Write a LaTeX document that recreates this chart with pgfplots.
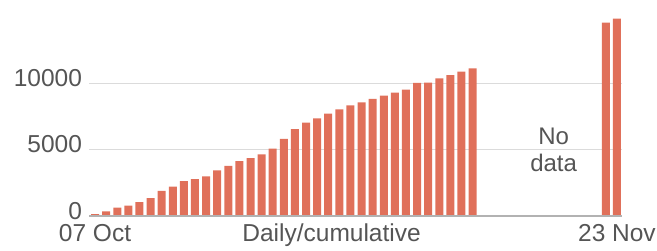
\documentclass[border=0pt]{standalone}
\usepackage{pgfplots}
\pgfplotsset{compat=1.18}
\usepackage{fontspec}
\setmainfont{Liberation Sans}
\definecolor{barc}{HTML}{E0705A}
\definecolor{lab}{HTML}{555555}
\begin{document}
\begin{tikzpicture}
\begin{axis}[
  scale only axis, width=533pt, height=212.8pt,
  xmin=-0.5, xmax=47.5, ymin=0, ymax=16000,
  axis line style={draw=none},
  axis x line*=bottom, axis y line*=left,
  ytick={0,5000,10000}, scaled y ticks=false,
  ymajorgrids, grid style={draw=black!14, line width=0.8pt},
  xtick={0,21.3,47}, xticklabels={07 Oct,Daily/cumulative,23 Nov},
  major tick length=0pt,
  /pgf/number format/assume math mode=true,
  /pgf/number format/1000 sep={},
  tick label style={font=\fontsize{24.5}{26}\selectfont, text=lab},
  xticklabel style={text height=17pt, text depth=0pt, anchor=north, yshift=-5pt},
  yticklabel style={anchor=east, xshift=-4pt, yshift=5pt},
  clip=false,
]
\addplot[ybar, bar width=8pt, fill=barc, draw=none] coordinates {
(0,150)(1,350)(2,630)(3,780)(4,1050)(5,1350)(6,1880)(7,2200)(8,2630)(9,2780)
(10,2980)(11,3430)(12,3760)(13,4130)(14,4360)(15,4640)(16,5060)(17,5790)(18,6540)(19,7020)
(20,7340)(21,7690)(22,8020)(23,8320)(24,8550)(25,8800)(26,9050)(27,9270)(28,9500)(29,10000)
(30,10030)(31,10350)(32,10600)(33,10850)(34,11100)(46,14530)(47,14840)
};
\draw[black!30, line width=1.2pt] (axis cs:-0.5,0) -- (axis cs:47.5,0);
\node[font=\fontsize{24}{27}\selectfont, text=lab, align=center] at (axis cs:41.3,4960) {No\\data};
\end{axis}
\pgfresetboundingbox
\path (rel axis cs:0,0) ++(-89.5pt,-35pt) rectangle ++(657pt,251pt);
\end{tikzpicture}
\end{document}
